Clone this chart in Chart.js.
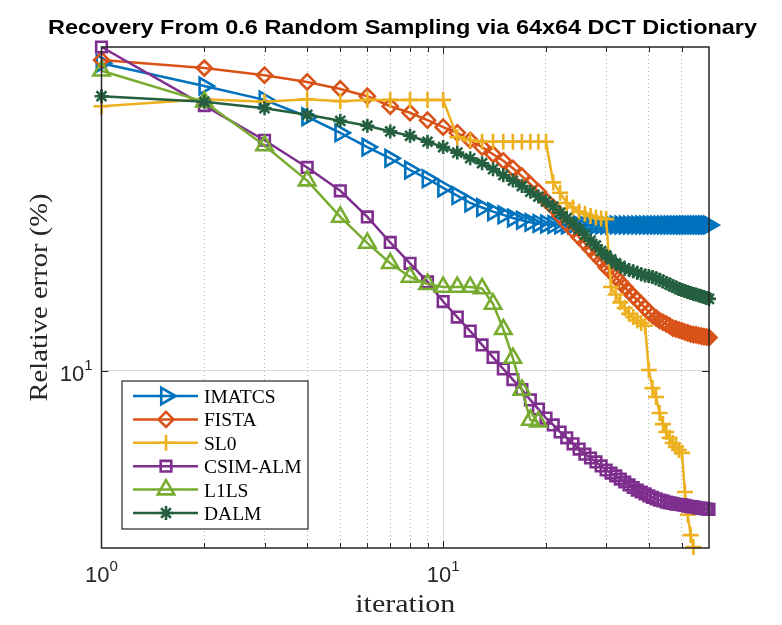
<!DOCTYPE html>
<html><head><meta charset="utf-8">
<script src="https://cdn.jsdelivr.net/npm/chart.js@4.4.1/dist/chart.umd.min.js"></script>
<style>html,body{margin:0;padding:0;background:#fff;}canvas{display:block;}</style>
</head><body>
<canvas id="c" width="782" height="625" style="width:782px;height:625px"></canvas>
<script>
// ---- data ----
const iterations = [1,2,3,4,5,6,7,8,9,10,11,12,13,14,15,16,17,18,19,20,21,22,23,24,25,26,27,28,29,30,
  31,32,33,34,35,36,37,38,39,40,41,42,43,44,45,46,47,48,49,50,51,52,53,54,55,56,57,58,59,60];
const imatcs = [41.2,37.1,34.8,32.2,29.9,28.0,26.6,25.2,24.2,23.2,22.4,21.65,21.2,20.8,20.5,20.2,20.0,19.8,19.7,19.65,
  19.6,19.58,19.56,19.56,19.56,19.56,19.56,19.56,19.56,19.56,19.56,19.56,19.56,19.56,19.56,19.56,19.56,19.56,19.56,19.56,
  19.56,19.56,19.56,19.56,19.56,19.56,19.56,19.56,19.56,19.56,19.56,19.56,19.56,19.56,19.56,19.56,19.56,19.56,19.56,19.56];
const fista = [41.8,40.3,39.0,37.8,36.6,35.4,33.8,32.8,31.7,30.7,29.9,28.9,28.0,27.1,26.3,25.4,24.5,23.6,22.8,21.9,
  21.2,20.4,19.7,19.1,18.5,18.0,17.5,17.0,16.6,16.1,15.8,15.4,15.05,14.7,14.4,14.1,13.85,13.6,13.35,13.1,
  12.9,12.75,12.6,12.5,12.4,12.3,12.17,12.12,12.06,12.01,11.95,11.9,11.84,11.81,11.79,11.76,11.73,11.7,11.68,11.65];
const sl0 = [33.8,34.9,34.5,34.9,34.6,34.8,34.8,34.8,34.8,34.8,29.3,28.9,28.7,28.7,28.7,28.7,28.7,28.7,28.7,28.7,
  23.8,22.7,21.65,21.2,20.8,20.6,20.4,20.25,20.16,20.1,14.7,14.2,13.7,13.35,13.0,12.8,12.6,12.46,12.3,10.03,
  9.23,8.86,8.23,7.82,7.54,7.34,7.17,7.04,6.94,6.85,5.72,5.15,4.69,4.44];
const csimAlm = [44.4,33.9,28.9,25.5,22.9,20.3,18.05,16.4,15.05,13.75,12.8,12.0,11.26,10.63,10.08,9.60,9.17,8.74,8.38,8.04,
  7.79,7.54,7.34,7.14,6.97,6.81,6.69,6.57,6.45,6.33,6.24,6.16,6.07,5.99,5.91,5.84,5.77,5.72,5.67,5.62,
  5.58,5.54,5.51,5.49,5.46,5.44,5.43,5.41,5.40,5.39,5.38,5.36,5.35,5.34,5.33,5.31,5.31,5.30,5.29,5.28];
const l1ls = [39.8,34.5,28.2,24.0,20.3,18.0,16.4,15.4,14.9,14.7,14.7,14.7,14.6,13.6,12.1,10.6,9.15,7.97,7.91];
const dalm = [35.4,34.5,33.5,32.5,31.6,30.9,30.1,29.5,28.7,28.0,27.3,26.6,26.0,25.3,24.6,24.0,23.4,22.8,22.3,21.8,
  21.3,20.7,20.2,19.7,19.2,18.7,18.2,17.8,17.35,17.0,16.7,16.4,16.2,16.0,15.9,15.8,15.7,15.6,15.5,15.47,
  15.4,15.3,15.2,15.08,14.98,14.87,14.77,14.67,14.57,14.5,14.43,14.37,14.3,14.24,14.21,14.14,14.09,14.04,13.98,13.92];
const seriesNames = ['IMATCS','FISTA','SL0','CSIM-ALM','L1LS','DALM'];
const xTickLabels = [{value:1, base:'10', exp:'0'}, {value:10, base:'10', exp:'1'}];
const yTickLabels = [{value:10, base:'10', exp:'1'}];
const xGridValues = [2,3,4,5,6,7,8,9,10,20,30,40,50];
const titleText = 'Recovery From 0.6 Random Sampling via 64x64 DCT Dictionary';
const xTitle = 'iteration';
const yTitle = 'Relative error (%)';

// ---- styles ----
const colors = ['#0072BD','#D95319','#EDB120','#7E2F8E','#77AC30','#24603F'];
const styles = [
  {pointStyle:'triangle', rot:90, r:9.5},
  {pointStyle:'rectRot', rot:0, r:7.5},
  {pointStyle:'cross', rot:0, r:8},
  {pointStyle:'rect', rot:0, r:7.5},
  {pointStyle:'triangle', rot:0, r:9.5},
  {pointStyle:'star', rot:0, r:7}
];
const allSeries = [imatcs, fista, sl0, csimAlm, l1ls, dalm];

const datasets = allSeries.map((d, i) => ({
  label: seriesNames[i],
  data: d,
  borderColor: colors[i],
  backgroundColor: colors[i],
  borderWidth: 2.5,
  pointStyle: styles[i].pointStyle,
  pointRotation: styles[i].rot,
  pointRadius: styles[i].r,
  pointHoverRadius: styles[i].r,
  pointBorderWidth: 2.6,
  pointBorderColor: colors[i],
  pointBackgroundColor: 'rgba(0,0,0,0)',
  tension: 0,
  clip: false,
  order: allSeries.length - i
}));

function drawMarker(ctx, style, x, y, r, rotDeg) {
  let rad = rotDeg * Math.PI / 180;
  ctx.beginPath();
  if (style === 'triangle') {
    ctx.moveTo(x + Math.sin(rad) * r, y - Math.cos(rad) * r);
    rad += 2 * Math.PI / 3;
    ctx.lineTo(x + Math.sin(rad) * r, y - Math.cos(rad) * r);
    rad += 2 * Math.PI / 3;
    ctx.lineTo(x + Math.sin(rad) * r, y - Math.cos(rad) * r);
    ctx.closePath();
  } else if (style === 'rectRot' || style === 'rect') {
    if (style === 'rect') rad += Math.PI / 4;
    const xo = Math.cos(rad) * r, yo = Math.sin(rad) * r;
    ctx.moveTo(x - xo, y - yo);
    ctx.lineTo(x + yo, y - xo);
    ctx.lineTo(x + xo, y + yo);
    ctx.lineTo(x - yo, y + xo);
    ctx.closePath();
  } else if (style === 'cross' || style === 'star') {
    const n = style === 'star' ? 2 : 1;
    for (let k = 0; k < n; k++) {
      const a = rad + k * Math.PI / 4;
      const xo = Math.cos(a) * r, yo = Math.sin(a) * r;
      ctx.moveTo(x - xo, y - yo); ctx.lineTo(x + xo, y + yo);
      ctx.moveTo(x - yo, y + xo); ctx.lineTo(x + yo, y - xo);
    }
  }
  ctx.stroke();
}

function fitText(ctx, text, cx, baseY, font, targetW, rotate) {
  ctx.save();
  ctx.font = font;
  const w = ctx.measureText(text).width;
  const sx = targetW ? targetW / w : 1;
  ctx.translate(cx, baseY);
  if (rotate) ctx.rotate(-Math.PI / 2);
  ctx.scale(sx, 1);
  ctx.textAlign = 'center';
  ctx.textBaseline = 'alphabetic';
  ctx.fillText(text, 0, 0);
  ctx.restore();
}

function powLabel(ctx, item, x, baseY, align) {
  const bFont = '22px "Liberation Sans"', eFont = '15px "Liberation Sans"';
  ctx.font = bFont; const wb = ctx.measureText(item.base).width;
  ctx.font = eFont; const we = ctx.measureText(item.exp).width;
  const total = wb + we;
  let left = align === 'right' ? x - total : x - total / 2;
  ctx.textAlign = 'left'; ctx.textBaseline = 'alphabetic';
  ctx.font = bFont; ctx.fillText(item.base, left, baseY);
  ctx.font = eFont; ctx.fillText(item.exp, left + wb, baseY - 11);
}

const overlay = {
  id: 'overlay',
  afterDraw(chart) {
    const {ctx, chartArea: a, scales} = chart;
    const xs = scales.x, ys = scales.y;
    ctx.save();
    // axes box
    ctx.strokeStyle = '#262626'; ctx.lineWidth = 1.5;
    ctx.strokeRect(a.left, a.top, a.right - a.left, a.bottom - a.top);
    // inward tick marks
    ctx.lineWidth = 1;
    ctx.beginPath();
    xGridValues.forEach(v => {
      const px = Math.round(xs.getPixelForValue(v)) + 0.5;
      const len = (v === 10) ? 7 : 5;
      ctx.moveTo(px, a.bottom); ctx.lineTo(px, a.bottom - len);
      ctx.moveTo(px, a.top); ctx.lineTo(px, a.top + len);
    });
    yTickLabels.forEach(t => {
      const py = Math.round(ys.getPixelForValue(t.value)) + 0.5;
      ctx.moveTo(a.left, py); ctx.lineTo(a.left + 7, py);
      ctx.moveTo(a.right, py); ctx.lineTo(a.right - 7, py);
    });
    ctx.stroke();
    // tick labels
    ctx.fillStyle = '#262626';
    xTickLabels.forEach(t => powLabel(ctx, t, xs.getPixelForValue(t.value), a.bottom + 34, 'center'));
    yTickLabels.forEach(t => powLabel(ctx, t, a.left - 9, ys.getPixelForValue(t.value) + 10, 'right'));
    // title
    ctx.fillStyle = '#000';
    fitText(ctx, titleText, 402.5, 34, 'bold 21px "Liberation Sans"', 709);
    // axis titles
    ctx.fillStyle = '#262626';
    fitText(ctx, xTitle, (a.left + a.right) / 2, 612, '26px "Liberation Serif"', 100);
    fitText(ctx, yTitle, 47, (a.top + a.bottom) / 2, '26px "Liberation Serif"', 208, true);
    // legend
    const L = {x: 122, y: 381, w: 186, h: 148};
    ctx.fillStyle = '#fff';
    ctx.fillRect(L.x, L.y, L.w, L.h);
    ctx.strokeStyle = '#262626'; ctx.lineWidth = 1.2;
    ctx.strokeRect(L.x, L.y, L.w, L.h);
    seriesNames.forEach((name, i) => {
      const yy = 396 + i * 23.4;
      ctx.strokeStyle = colors[i]; ctx.lineWidth = 2.5;
      ctx.beginPath(); ctx.moveTo(133, yy); ctx.lineTo(198, yy); ctx.stroke();
      ctx.lineWidth = 2.6;
      drawMarker(ctx, styles[i].pointStyle, 166, yy, styles[i].r, styles[i].rot);
      ctx.fillStyle = '#000';
      ctx.font = '19.5px "Liberation Serif"';
      ctx.textAlign = 'left'; ctx.textBaseline = 'alphabetic';
      ctx.fillText(name, 204, yy + 7);
    });
    ctx.restore();
  }
};

new Chart(document.getElementById('c'), {
  type: 'line',
  data: {labels: iterations, datasets},
  options: {
    responsive: false,
    devicePixelRatio: 1,
    animation: false,
    layout: {padding: {left: 0, top: 47, right: 73, bottom: 0}},
    plugins: {legend: {display: false}, title: {display: false}, tooltip: {enabled: false}},
    scales: {
      x: {
        type: 'logarithmic', min: 1, max: 60,
        afterBuildTicks: s => { s.ticks = xGridValues.map(v => ({value: v})); },
        afterFit: s => { s.height = 77; },
        ticks: {display: false},
        grid: {
          drawTicks: false,
          color: c => (c.tick && c.tick.value === 10) ? '#d9d9d9' : '#b3b3b3',
          lineWidth: 1
        },
        border: {display: false, dash: c => (c.type === 'tick' && c.tick.value !== 10) ? [1, 3] : []}
      },
      y: {
        type: 'logarithmic', min: 4.42, max: 44.4,
        afterBuildTicks: s => { s.ticks = yTickLabels.map(t => ({value: t.value})); },
        afterFit: s => { s.width = 101.5; },
        ticks: {display: false},
        grid: {drawTicks: false, color: '#d9d9d9', lineWidth: 1},
        border: {display: false}
      }
    }
  },
  plugins: [overlay]
});
</script>
</body></html>
